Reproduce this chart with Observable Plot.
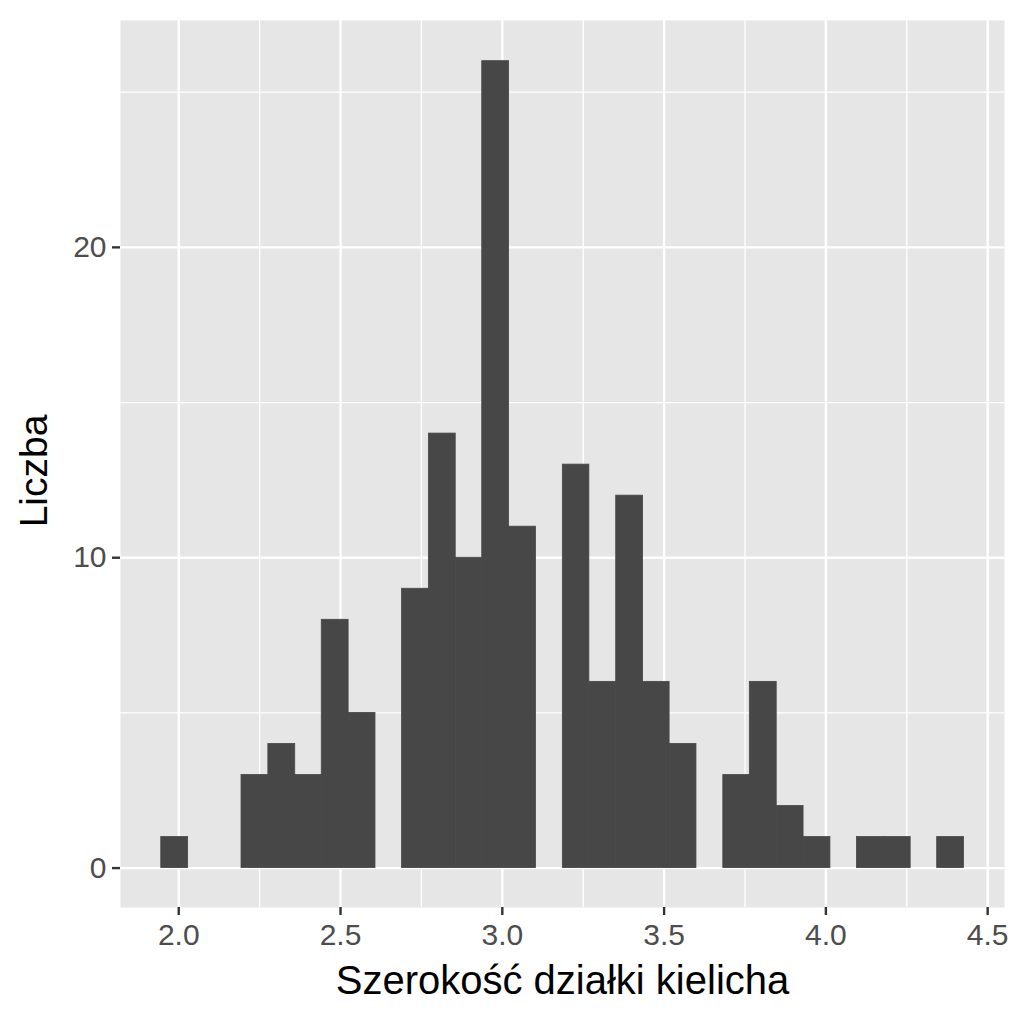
<!DOCTYPE html>
<html>
<head>
<meta charset="utf-8">
<script src="https://cdn.jsdelivr.net/npm/d3@7"></script>
<script src="https://cdn.jsdelivr.net/npm/@observablehq/plot@0.6"></script>
<style>
  html, body { margin: 0; padding: 0; background: #ffffff; }
  #chart { width: 1024px; height: 1024px; }
  svg { font-family: "Liberation Sans", Arial, sans-serif; }
</style>
</head>
<body>
<div id="chart"></div>
<script>
// Bin edges (Sepal width)
const binEdges = [1.946, 2.029, 2.111, 2.194, 2.277, 2.360, 2.442, 2.525, 2.608, 2.690,
  2.773, 2.856, 2.938, 3.021, 3.104, 3.187, 3.269, 3.352, 3.435, 3.517,
  3.600, 3.683, 3.765, 3.848, 3.931, 4.014, 4.096, 4.179, 4.262, 4.344, 4.427];
// Counts per bin
const binCounts = [1, 0, 0, 3, 4, 3, 8, 5, 0, 9,
  14, 10, 26, 11, 0, 13, 6, 12, 6, 4,
  0, 3, 6, 2, 1, 0, 1, 1, 0, 1];

const xMajorTicks = [2.0, 2.5, 3.0, 3.5, 4.0, 4.5];
const xMinorTicks = [2.25, 2.75, 3.25, 3.75, 4.25];
const yMajorTicks = [0, 10, 20];
const yMinorTicks = [5, 15, 25];
const xTitle = "Szerokość działki kielicha";
const yTitle = "Liczba";

const bins = binCounts.map((c, i) => ({x1: binEdges[i], x2: binEdges[i + 1], count: c}))
  .filter(d => d.count > 0);

const plot = Plot.plot({
  width: 1024,
  height: 1024,
  marginLeft: 120,
  marginRight: 20,
  marginTop: 20,
  marginBottom: 117,
  style: {fontFamily: '"Liberation Sans", Arial, sans-serif', background: "#ffffff"},
  x: {domain: [1.820, 4.552]},
  y: {domain: [-1.27, 27.31]},
  marks: [
    Plot.frame({fill: "#E6E6E6", stroke: null}),
    Plot.gridX(xMinorTicks, {stroke: "#ffffff", strokeOpacity: 1, strokeWidth: 1.3}),
    Plot.gridY(yMinorTicks, {stroke: "#ffffff", strokeOpacity: 1, strokeWidth: 1.3}),
    Plot.gridX(xMajorTicks, {stroke: "#ffffff", strokeOpacity: 1, strokeWidth: 2.4}),
    Plot.gridY(yMajorTicks, {stroke: "#ffffff", strokeOpacity: 1, strokeWidth: 2.4}),
    Plot.rectY(bins, {x1: "x1", x2: "x2", y1: 0, y2: "count", fill: "#474747", stroke: "#474747", strokeWidth: 0.8}),
    Plot.axisX(xMajorTicks, {tickSize: 8, tickPadding: 8, fontSize: 30, fill: "#4D4D4D", stroke: "#333333", strokeWidth: 2.4, tickFormat: d3.format(".1f"), label: null}),
    Plot.axisY(yMajorTicks, {tickSize: 8, tickPadding: 6, fontSize: 30, fill: "#4D4D4D", stroke: "#333333", strokeWidth: 2.4, tickFormat: d3.format("d"), label: null}),
    Plot.text([xTitle], {frameAnchor: "bottom", dy: 86, fontSize: 40, fill: "#000000", textAnchor: "middle", lineAnchor: "bottom"}),
    Plot.text([yTitle], {frameAnchor: "left", dx: -86, dy: 7, rotate: -90, fontSize: 39, fill: "#000000", textAnchor: "middle", lineAnchor: "middle"})
  ]
});
document.getElementById("chart").appendChild(plot);
</script>
</body>
</html>
